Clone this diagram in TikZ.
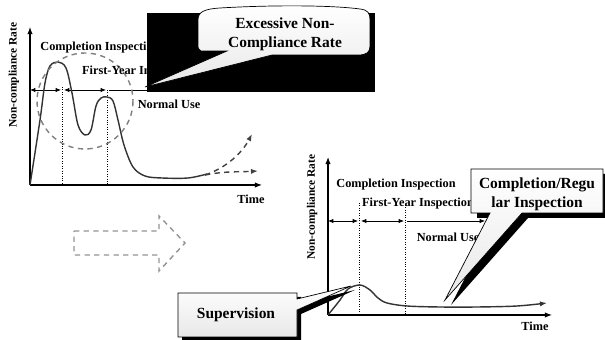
\documentclass[tikz,border=0pt]{standalone}
\usepackage{fontspec}
\setmainfont{Liberation Serif}
\usetikzlibrary{arrows.meta}

\begin{document}
\begin{tikzpicture}[x=0.02cm, y=-0.02cm,
    axis/.style={semithick, -{Latex[length=4pt,width=3pt]}},
    stage/.style={thin, {Latex[length=3pt,width=2.4pt]}-{Latex[length=3pt,width=2.4pt]}},
    laststage/.style={thin, -{Latex[length=3pt,width=2.4pt]}},
    curve/.style={thick, black!80, line join=round},
    marker/.style={densely dotted, thin},
    label/.style={font=\fontsize{7}{8}\selectfont\bfseries, inner sep=0pt},
    ylabel/.style={font=\fontsize{6.5}{8}\selectfont\bfseries, rotate=90, inner sep=0pt},
    callout/.style={draw, thin, top color=white, bottom color=gray!18},
    calltext/.style={font=\fontsize{8.8}{10.8}\selectfont\bfseries, align=center, inner sep=0pt},
    hint/.style={thick, gray, dash pattern=on 3pt off 2.5pt},
  ]
  \useasboundingbox (0,0) rectangle (605,340);

  % before: left chart
  \coordinate (o1) at (30,185);
  \draw[axis] (o1) -- (30,27);
  \draw[axis] (o1) -- (262,185);
  \node[ylabel] (y1) at (14,75) {Non-compliance Rate};
  \node[label] (t1) at (251,199) {Time};
  \draw[marker] (62,87) -- (62,185);
  \draw[marker] (107,90) -- (107,185);
  \draw[stage] (30,90) -- (61,90);
  \draw[stage] (64,90) -- (106,90);
  \draw[laststage] (109,90) -- (200,90);
  \draw[curve] plot[smooth, tension=0.55] coordinates {(30,185) (40,120) (45,83) (50,66) (58,62) (66,68) (72,93) (78,125) (85,135) (91,130) (96,106) (101,98) (107,97) (113,101) (118,120) (124,145) (133,167) (145,176) (162,178) (188,178) (207,174)};
  \draw[hint, black!75, -{Latex[length=4pt,width=3pt]}] (205,175) .. controls (226,168) and (242,153) .. (252,134);
  \draw[hint, black!75, -{Latex[length=4pt,width=3pt]}] (205,175) .. controls (225,171) and (240,172) .. (258,171);
  \draw[hint] (85,101) circle[radius=48];
  \node[label] (ci1) at (100,48) {Completion Inspection};
  \node[label] (fy1) at (138,72) {First-Year Inspection};
  \node[label] (nu1) at (169,104) {Normal Use};

  % black block and callout
  \fill (147,13) rectangle (375,92);
  \draw[callout] (201,51) .. controls (198,50) and (198,48) .. (198,44) -- (198,20)
    .. controls (198,12) and (204,9) .. (220,8) .. controls (270,5) and (330,5) .. (360,9)
    .. controls (368,10) and (370,13) .. (370,20) -- (370,46)
    .. controls (370,52) and (367,55) .. (358,55) -- (272,55) -- (145,87) -- (227,51) -- cycle;
  \node[calltext] (excess) at (285,34) {Excessive Non-\\Compliance Rate};

  % transition
  \draw[hint, gray!85] (74,231) -- (159,231) -- (159,216) -- (185,243) -- (159,271) -- (159,255) -- (74,255) -- cycle;

  % after: right chart
  \coordinate (o2) at (328,315);
  \draw[axis] (o2) -- (328,157);
  \draw[axis] (o2) -- (552,315);
  \node[ylabel] (y2) at (312,207) {Non-compliance Rate};
  \node[label] (t2) at (535,326) {Time};
  \draw[marker] (359,203) -- (359,315);
  \draw[marker] (405,205) -- (405,315);
  \draw[stage] (328,221) -- (358,221);
  \draw[stage] (361,221) -- (404,221);
  \draw[laststage] (407,221) -- (485,221);
  \draw[curve, -{Latex[length=4pt,width=3pt]}] plot[smooth, tension=0.55] coordinates {(328,315) (340,300) (348,289) (360,285) (370,290) (378,298) (387,303) (407,306) (440,307) (477,307) (517,306) (547,303)};
  \node[label] (ci2) at (396,185) {Completion Inspection};
  \node[label] (fy2) at (418,204) {First-Year Inspection};
  \node[label] (nu2) at (448,237) {Normal Use};

  % callouts with shadows
  \fill[shift={(6,5)}] (471,169) -- (603,169) -- (603,213) -- (522,213) -- (445,300) -- (490,213) -- (471,213) -- cycle;
  \draw[callout] (471,169) -- (603,169) -- (603,213) -- (522,213) -- (445,300) -- (490,213) -- (471,213) -- cycle;
  \node[calltext] (regular) at (537,194) {Completion/Regu\\lar Inspection};

  \fill[shift={(4,4)}] (178,293) -- (297,293) -- (297,299) -- (351,286) -- (297,310) -- (297,337) -- (178,337) -- cycle;
  \draw[callout] (178,293) -- (297,293) -- (297,299) -- (351,286) -- (297,310) -- (297,337) -- (178,337) -- cycle;
  \node[calltext] (super) at (236,315) {Supervision};
\end{tikzpicture}
\end{document}
